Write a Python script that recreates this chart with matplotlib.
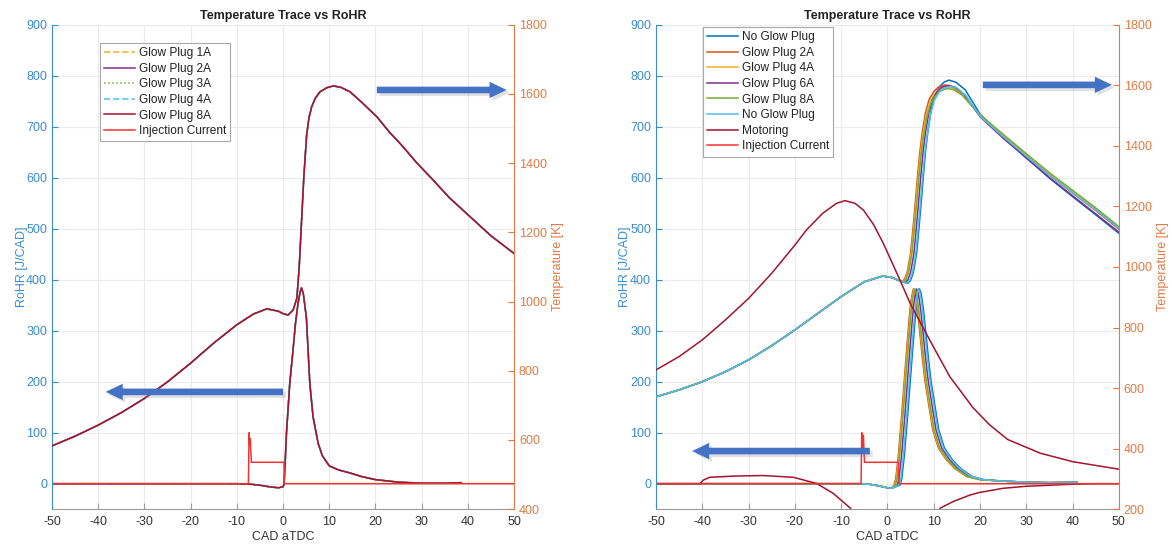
import matplotlib
matplotlib.use('Agg')
import matplotlib.pyplot as plt
from matplotlib.patches import FancyArrow
import matplotlib.patheffects as pe

plt.rcParams['font.family'] = ['Liberation Sans', 'DejaVu Sans']
plt.rcParams['axes.unicode_minus'] = False

# ---------------- data: left chart ----------------
L_RHR_X = [-50, -10, -7, -5, -3, -1, 0, 0.2, 0.4, 0.75, 1.45, 2.15, 2.7, 3.25, 3.7, 4.0, 4.4, 5.05,
           5.8, 6.5, 7.6, 8.5, 10, 12, 14.5, 17, 20, 25, 30, 35, 38.5]
L_RHR_V = [0, 0, -1, -3, -6, -8, -6, -2, 30, 100, 196, 261, 315, 354, 376, 384, 372, 326,
           196, 131, 79, 55, 35, 27, 21, 14, 8, 3, 1, 1, 2]
L_T_X = [-50, -45, -40, -35, -30, -25, -20, -15, -10, -6.4, -3.5, -1, 0, 1.1, 2.2, 3.0, 3.5, 4.0, 4.5,
         5.1, 5.6, 6.2, 7.0, 8.0, 9.5, 10.9, 12.5, 14.5, 17, 20.3, 23, 26, 29, 32.5, 36, 40.5, 45, 50]
L_T_V = [583, 611, 643, 679, 720, 768, 822, 880, 933, 964, 979, 972, 965, 961, 976, 1010, 1100, 1230, 1360,
         1480, 1530, 1563, 1588, 1606, 1618, 1623, 1619, 1606, 1576, 1534, 1490, 1447, 1400, 1351, 1300, 1245, 1190, 1139]
L_INJ_X = [-50, -7.5, -7.35, -7.2, -7.1, -6.85, 0.2, 0.3, 50]
L_INJ_V = [0, 0, 100, 75, 88, 42, 42, 0, 0]
L_LABELS = ['Glow Plug 1A', 'Glow Plug 2A', 'Glow Plug 3A', 'Glow Plug 4A', 'Glow Plug 8A']

# ---------------- data: right chart ----------------
R_R_PRE_X = [-50, -6, -4, -2, 0, 0.9]
R_R_PRE_V = [0, 0, -1, -4, -8, -9]
R_R_V = [-3, 10, 60, 138, 210, 269, 325, 360, 382, 372, 340, 295, 250, 202, 150, 105, 70, 46, 30, 14, 8, 5, 3, 2, 3]
NOGP1_R_X = [2.7, 3.1, 3.7, 4.4, 5.0, 5.5, 6.0, 6.4, 6.9, 7.3, 7.8, 8.3, 8.8, 9.4, 10.3, 11.1, 12.3, 14.1, 15.8, 18.3, 20.8, 25, 30, 35, 41]
GP2A_R_X = [1.4, 1.8, 2.4, 3.1, 3.7, 4.2, 4.7, 5.1, 5.6, 6.0, 6.5, 7.0, 7.5, 8.1, 9.0, 9.8, 11.0, 12.8, 14.5, 17.1, 20, 25, 30, 35, 41]
GP4A_R_X = [1.55, 1.95, 2.55, 3.25, 3.85, 4.35, 4.85, 5.25, 5.75, 6.15, 6.65, 7.15, 7.65, 8.25, 9.15, 9.95, 11.15, 12.95, 14.65, 17.2, 20, 25, 30, 35, 41]
GP6A_R_X = [2.1, 2.5, 3.1, 3.8, 4.4, 4.9, 5.4, 5.8, 6.3, 6.7, 7.2, 7.7, 8.2, 8.8, 9.7, 10.5, 11.7, 13.5, 15.2, 17.7, 20.3, 25, 30, 35, 41]
GP8A_R_X = [1.7, 2.1, 2.7, 3.4, 4.0, 4.5, 5.0, 5.4, 5.9, 6.3, 6.8, 7.3, 7.8, 8.4, 9.3, 10.1, 11.3, 13.1, 14.8, 17.3, 20, 25, 30, 35, 41]
NOGP2_R_X = [2.5, 2.9, 3.5, 4.2, 4.8, 5.3, 5.8, 6.2, 6.7, 7.1, 7.6, 8.1, 8.6, 9.2, 10.1, 10.9, 12.1, 13.9, 15.6, 18.1, 20.6, 25, 30, 35, 41]

R_T_PRE_X = [-50, -45, -40, -35, -30, -25, -20, -15, -10, -5, -1, 1, 2.5]
R_T_PRE_V = [571, 594, 621, 654, 693, 740, 792, 847, 902, 951, 970, 965, 955]
NOGP1_T_X = [4.4, 5.0, 5.6, 6.3, 6.8, 7.3, 7.8, 8.3, 8.8, 9.5, 10.3, 11.3, 12.3, 13.3, 14.8, 16.8, 20, 25, 30, 35, 40, 45, 50]
NOGP1_T_V = [946, 956, 982, 1045, 1128, 1215, 1308, 1392, 1455, 1522, 1568, 1596, 1611, 1617, 1610, 1585, 1505, 1428, 1360, 1293, 1232, 1172, 1111]
GP2A_T_X = [3.1, 3.7, 4.3, 5.0, 5.5, 6.0, 6.5, 7.0, 7.5, 8.2, 9.0, 10, 11, 12.5, 14, 16, 20, 25, 30, 35, 40, 45, 50]
GP2A_T_V = [951, 960, 985, 1045, 1125, 1210, 1300, 1380, 1442, 1508, 1553, 1579, 1594, 1601, 1595, 1572, 1500, 1430, 1366, 1303, 1244, 1186, 1125]
GP4A_T_X = [3.25, 3.85, 4.45, 5.15, 5.65, 6.15, 6.65, 7.15, 7.65, 8.35, 9.15, 10.15, 11.15, 12.65, 14.1, 16.1, 20, 25, 30, 35, 40, 45, 50]
GP4A_T_V = [951, 960, 985, 1045, 1125, 1209, 1298, 1377, 1436, 1500, 1545, 1571, 1587, 1595, 1591, 1570, 1502, 1435, 1371, 1308, 1250, 1192, 1130]
GP6A_T_X = [3.8, 4.4, 5.0, 5.7, 6.2, 6.7, 7.2, 7.7, 8.2, 8.9, 9.7, 10.7, 11.7, 13.2, 14.7, 16.7, 20, 25, 30, 35, 40, 45, 50]
GP6A_T_V = [948, 957, 982, 1042, 1123, 1209, 1299, 1380, 1441, 1506, 1552, 1578, 1593, 1600, 1593, 1568, 1496, 1425, 1360, 1295, 1235, 1175, 1115]
GP8A_T_X = [3.4, 4.0, 4.6, 5.3, 5.8, 6.3, 6.8, 7.3, 7.8, 8.5, 9.3, 10.3, 11.3, 12.8, 14.2, 16.2, 20, 25, 30, 35, 40, 45, 50]
GP8A_T_V = [950, 959, 984, 1044, 1123, 1207, 1295, 1373, 1430, 1493, 1538, 1564, 1580, 1589, 1586, 1567, 1503, 1438, 1374, 1311, 1253, 1195, 1133]
NOGP2_T_X = [4.2, 4.8, 5.4, 6.1, 6.6, 7.1, 7.6, 8.1, 8.6, 9.3, 10.1, 11.1, 12.1, 13.6, 15.0, 17.0, 20, 25, 30, 35, 40, 45, 50]
NOGP2_T_V = [947, 956, 981, 1042, 1123, 1209, 1299, 1379, 1438, 1503, 1549, 1575, 1590, 1597, 1591, 1565, 1498, 1430, 1366, 1303, 1245, 1188, 1128]

MOT_R_X = [-50, -40.5, -39.8, -38.4, -33, -26.8, -20.3, -15.3, -11.7, -8, -5, 0, 5, 10, 11.4, 14.2, 17.9, 20, 25, 30, 35, 40, 45, 50]
MOT_R_V = [0, 0, 7, 12.5, 15, 16, 12.5, 0.5, -19, -48, -100, -180, -140, -70, -48, -35, -22, -17, -9, -5, -3, -1, 0, 0]
MOT_T_X = [-50, -45, -40, -35, -30, -25, -20, -17.5, -14, -11, -9.2, -7, -5.2, -3, -0.9, 2.7, 4.9, 6.3, 9.9, 13.5, 18.5, 22.1, 26, 33, 40, 50]
MOT_T_V = [660, 704, 759, 825, 896, 979, 1072, 1122, 1177, 1210, 1219, 1210, 1188, 1140, 1078, 957, 880, 840, 737, 637, 535, 478, 430, 385, 357, 332]
R_INJ_X = [-50, -5.7, -5.55, -5.35, -5.2, -4.95, 2.4, 2.5, 50]
R_INJ_V = [0, 0, 100, 70, 95, 42, 42, 0, 0]
R_LABELS = ['No Glow Plug', 'Glow Plug 2A', 'Glow Plug 4A', 'Glow Plug 6A', 'Glow Plug 8A',
            'No Glow Plug', 'Motoring', 'Injection Current']

X_TICKS = list(range(-50, 51, 10))
RHR_TICKS = list(range(0, 901, 100))
L_T_TICKS = list(range(400, 1801, 200))
R_T_TICKS = list(range(200, 1801, 200))

# ---------------- style ----------------
BLUE = '#3A8DCB'
ORANGE = '#E07B45'
ARROW = '#4472C4'
INJ = '#F03434'
LW = 1.1

fig = plt.figure(figsize=(11.72, 5.46), dpi=100)
axL = fig.add_axes([0.0444, 0.0674, 0.3942, 0.8874])
axR = fig.add_axes([0.5597, 0.0674, 0.395, 0.8874])
axL2 = axL.twinx()
axR2 = axR.twinx()


def style(ax, ax2, tlim, tticks):
    ax.set_xlim(-50, 50)
    ax.set_ylim(-50, 900)
    ax2.set_ylim(*tlim)
    ax.set_xticks(X_TICKS)
    ax.set_yticks(RHR_TICKS)
    ax2.set_yticks(tticks)
    ax.grid(True, color='#ebebeb', lw=0.8)
    ax.set_axisbelow(True)
    for a in (ax, ax2):
        a.spines['top'].set_visible(False)
    ax.spines['right'].set_visible(False)
    ax2.spines['left'].set_visible(False)
    ax2.spines['bottom'].set_visible(False)
    ax.spines['left'].set_color(BLUE)
    ax2.spines['right'].set_color(ORANGE)
    ax.spines['bottom'].set_color('#9a9a9a')
    ax.tick_params(axis='x', direction='in', length=4, color='#9a9a9a', labelcolor='#333333',
                   labelsize=9, pad=5)
    ax.tick_params(axis='y', direction='in', length=4, color=BLUE, labelcolor=BLUE, labelsize=9)
    ax2.tick_params(axis='y', direction='in', length=4, color=ORANGE, labelcolor=ORANGE, labelsize=9)
    ax.set_xlabel('CAD aTDC', fontsize=9, color='#333333', labelpad=2)
    ax.set_ylabel('RoHR [J/CAD]', fontsize=9, color=BLUE, labelpad=-1)
    ax2.set_ylabel('Temperature [K]', fontsize=9, color=ORANGE, labelpad=4)
    ax.set_title('Temperature Trace vs RoHR', fontsize=9, fontweight='bold', pad=4, color='#222222')


# ---------------- left chart ----------------
left_styles = [('#EDB120', (0, (4, 2))), ('#7E2F8E', '-'), ('#77AC30', ':'),
               ('#4DBEEE', (0, (4, 2))), ('#A2142F', '-')]
handlesL = []
for (col, ls), lab in zip(left_styles, L_LABELS):
    h, = axL.plot(L_RHR_X, L_RHR_V, color=col, ls=ls, lw=LW, label=lab)
    axL2.plot(L_T_X, L_T_V, color=col, ls=ls, lw=LW)
    handlesL.append(h)
h, = axL.plot(L_INJ_X, L_INJ_V, color=INJ, lw=LW, label='Injection Current')
handlesL.append(h)
style(axL, axL2, (400, 1800), L_T_TICKS)

# ---------------- right chart ----------------
right_series = [
    ('#0072BD', NOGP1_R_X, NOGP1_T_X, NOGP1_T_V),
    ('#D95319', GP2A_R_X, GP2A_T_X, GP2A_T_V),
    ('#EDB120', GP4A_R_X, GP4A_T_X, GP4A_T_V),
    ('#7E2F8E', GP6A_R_X, GP6A_T_X, GP6A_T_V),
    ('#77AC30', GP8A_R_X, GP8A_T_X, GP8A_T_V),
    ('#4DBEEE', NOGP2_R_X, NOGP2_T_X, NOGP2_T_V),
]
handlesR = []
for (col, rx, tx, tv), lab in zip(right_series, R_LABELS):
    h, = axR.plot(R_R_PRE_X + rx, R_R_PRE_V + R_R_V, color=col, lw=LW, label=lab)
    axR2.plot(R_T_PRE_X + tx, R_T_PRE_V + tv, color=col, lw=LW)
    handlesR.append(h)
h, = axR.plot(MOT_R_X, MOT_R_V, color='#A2142F', lw=LW, label='Motoring')
axR2.plot(MOT_T_X, MOT_T_V, color='#A2142F', lw=LW)
handlesR.append(h)
h, = axR.plot(R_INJ_X, R_INJ_V, color=INJ, lw=LW, label='Injection Current')
handlesR.append(h)
style(axR, axR2, (200, 1800), R_T_TICKS)

leg_kw = dict(fontsize=8.6, frameon=True, fancybox=False, framealpha=1, edgecolor='#a8a8a8',
              borderpad=0.35, labelspacing=0.3, handlelength=2.6, handletextpad=0.3,
              borderaxespad=0, loc='upper left')
lgL = axL2.legend(handlesL, [x.get_label() for x in handlesL], bbox_to_anchor=(0.104, 0.962), **leg_kw)
lgR = axR2.legend(handlesR, R_LABELS, bbox_to_anchor=(0.1015, 0.995), **leg_kw)
for lg in (lgL, lgR):
    lg.get_frame().set_linewidth(0.8)
    for t in lg.get_texts():
        t.set_color('#222222')

# ---------------- annotation arrows ----------------
shadow = [pe.withSimplePatchShadow(offset=(2, -2), shadow_rgbFace='#888888', alpha=0.25)]


def arrow(ax, x0, x1, y):
    a = FancyArrow(x0, y, x1 - x0, 0, width=13, head_width=32, head_length=3.7,
                   length_includes_head=True, transform=ax.transData, color=ARROW,
                   lw=0, path_effects=shadow, clip_on=False, zorder=10)
    fig.add_artist(a)


arrow(axL, 20.3, 48.4, 772)
arrow(axL, 0.0, -38.4, 180)
arrow(axR, 20.6, 48.5, 782)
arrow(axR, -3.8, -42.2, 64)

fig.savefig('out.png', dpi=100)
